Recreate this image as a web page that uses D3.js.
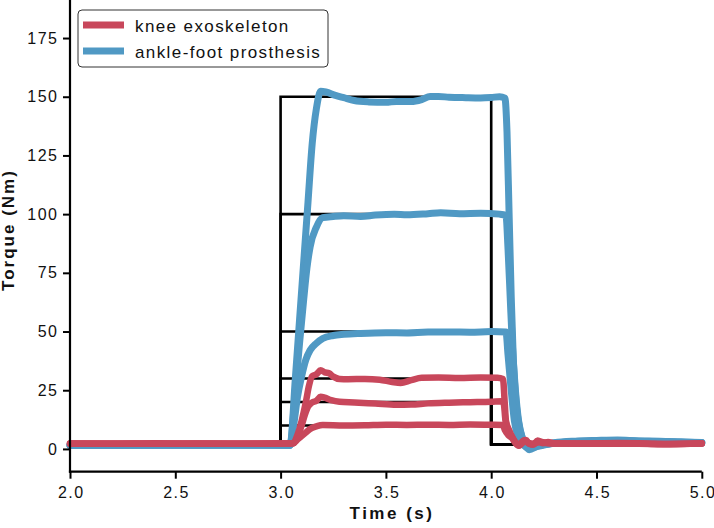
<!DOCTYPE html>
<html><head><meta charset="utf-8">
<script src="https://cdn.jsdelivr.net/npm/d3@7"></script>
<style>
html,body{margin:0;padding:0;background:#fff;}
svg{display:block;font-family:"Liberation Sans",Arial,sans-serif;}
</style></head>
<body><svg id="chart" width="714" height="528"></svg>
<script>
// ---------- data ----------
const xTicks = [2.0, 2.5, 3.0, 3.5, 4.0, 4.5, 5.0];
const yTicks = [0, 25, 50, 75, 100, 125, 150, 175];
const seriesNames = ["knee exoskeleton", "ankle-foot prosthesis"];
const seriesColors = ["#c8475b", "#5099c4"];

// commanded reference steps (black)
const refLevels = [10, 20, 30, 50, 100, 150];
const refTimes = [2.0, 3.0, 3.0, 4.0, 4.0, 5.0];
const refBase = 2;

// ankle-foot prosthesis (blue) — [time s, torque Nm]
const ankle150 = [[2.0,1.6],[2.3,1.7],[2.6,1.6],[2.9,1.7],[3.045,1.6],[3.07,30],[3.09,55],[3.11,80],[3.13,105],[3.15,130],[3.17,145],[3.19,152.3],[3.215,152],[3.26,150.6],[3.3,149.6],[3.35,148.4],[3.42,147.8],[3.5,147.6],[3.55,148],[3.62,148],[3.67,148.8],[3.71,150.1],[3.75,150.1],[3.8,149.8],[3.88,149.6],[3.95,149.5],[4.0,149.7],[4.04,150],[4.065,149.4],[4.075,135],[4.085,100],[4.095,65],[4.105,38],[4.12,18],[4.14,7],[4.16,2],[4.18,-0.3],[4.22,1.2],[4.3,2.6],[4.4,3.3],[4.5,3.6],[4.6,3.8],[4.7,3.4],[4.8,3.3],[4.9,3.0],[5.0,2.7]];
const ankle100 = [[2.0,1.6],[2.4,1.6],[2.8,1.7],[3.045,1.6],[3.07,25],[3.09,45],[3.11,64],[3.125,77],[3.14,86],[3.17,94.5],[3.2,98.5],[3.25,99],[3.3,99.3],[3.38,99],[3.45,99.6],[3.54,100],[3.6,99.7],[3.7,100.2],[3.76,100.6],[3.85,100.2],[3.95,100.4],[4.04,100],[4.07,99.5],[4.08,85],[4.09,65],[4.1,45],[4.115,25],[4.13,12],[4.15,4],[4.17,0.5],[4.2,0.8],[4.3,2.5],[4.4,3.2],[4.5,3.4],[4.6,3.6],[4.7,3.3],[4.8,3.1],[4.9,2.9],[5.0,2.6]];
const ankle50 = [[2.0,1.5],[2.5,1.6],[2.9,1.6],[3.045,1.6],[3.065,12],[3.08,22],[3.1,31],[3.12,38],[3.14,42],[3.17,45],[3.2,47],[3.25,48.3],[3.3,48.8],[3.38,49.2],[3.5,49.5],[3.6,49.4],[3.7,49.8],[3.8,49.8],[3.9,49.7],[4.0,50],[4.07,49.8],[4.08,40],[4.095,25],[4.11,12],[4.13,5],[4.15,2],[4.17,0.8],[4.22,1.5],[4.3,2.4],[4.45,3.1],[4.6,3.4],[4.75,3.1],[4.9,2.8],[5.0,2.6]];

// knee exoskeleton (red) — [time s, torque Nm]
const knee30 = [[2.0,2.3],[2.2,2.2],[2.4,2.4],[2.6,2.3],[2.8,2.2],[3.0,2.3],[3.06,2.4],[3.08,6],[3.1,12],[3.12,20],[3.135,27],[3.15,31],[3.17,31.8],[3.19,33.5],[3.21,32.6],[3.23,32.2],[3.25,30.8],[3.28,29.8],[3.32,29.7],[3.4,29.8],[3.47,29.5],[3.53,28.5],[3.57,28.1],[3.62,29.3],[3.67,30.3],[3.75,30.4],[3.85,30.2],[3.95,30.4],[4.03,30.3],[4.056,29.8],[4.064,20],[4.07,12],[4.085,8],[4.097,5.5],[4.115,2.5],[4.13,1.3],[4.15,3.4],[4.165,3.8],[4.18,2.2],[4.2,1.8],[4.22,3.6],[4.245,2.4],[4.27,3],[4.3,2.4],[4.4,2.3],[4.5,2.4],[4.6,2.5],[4.7,2.4],[4.8,2.0],[4.9,2.1],[5.0,2.4]];
const knee20 = [[2.0,2.2],[2.3,2.3],[2.6,2.2],[2.9,2.3],[3.06,2.4],[3.08,5],[3.1,10],[3.115,14.5],[3.13,18],[3.15,19.8],[3.17,20.5],[3.19,22.2],[3.21,21.8],[3.24,20.8],[3.28,20.1],[3.35,19.8],[3.45,19.3],[3.55,18.8],[3.62,18.9],[3.7,19.4],[3.8,19.7],[3.9,19.9],[4.0,20.1],[4.05,20.3],[4.06,19],[4.068,12],[4.085,7.5],[4.1,5],[4.12,2.2],[4.135,1.5],[4.155,3.5],[4.175,2.6],[4.2,2],[4.225,3.3],[4.26,2.5],[4.35,2.3],[4.5,2.2],[4.7,2.3],[4.85,2.1],[5.0,2.3]];
const knee10 = [[2.0,2.3],[2.3,2.2],[2.6,2.3],[2.9,2.2],[3.06,2.4],[3.08,4],[3.1,5.5],[3.12,7],[3.14,8.5],[3.17,9.6],[3.2,10.2],[3.3,10],[3.4,10.1],[3.5,10.3],[3.6,10.2],[3.7,10.3],[3.8,10.2],[3.9,10.4],[4.0,10.3],[4.055,10.2],[4.065,8],[4.08,6],[4.1,4.5],[4.12,2.4],[4.14,2],[4.16,3.2],[4.19,2.2],[4.23,2.8],[4.3,2.3],[4.45,2.2],[4.6,2.3],[4.8,2.1],[5.0,2.3]];

const ankleSeries = [ankle150, ankle100, ankle50];
const kneeSeries = [knee30, knee20, knee10];

// ---------- chart ----------
const svg = d3.select("#chart");
const x = d3.scaleLinear().domain([2, 5]).range([70, 701.8]);
const y = d3.scaleLinear().domain([-9.7, 191.2]).range([471.7, 0]);

const line = d3.line().x(d => x(d[0])).y(d => y(d[1])).curve(d3.curveMonotoneX);

// reference steps
const refG = svg.append("g");
refLevels.forEach(L => {
  const pts = refTimes.map((t, i) => [t, (i === 0 || i === 1 || i === 4 || i === 5) ? refBase : L]);
  refG.append("path")
    .attr("d", d3.line().x(d => x(d[0])).y(d => y(d[1]))(pts))
    .attr("fill", "none").attr("stroke", "#000").attr("stroke-width", 2.6)
    .attr("stroke-linejoin", "miter");
});

// blue
svg.append("g").selectAll("path").data(ankleSeries).join("path")
  .attr("d", line).attr("fill", "none")
  .attr("stroke", seriesColors[1]).attr("stroke-width", 7)
  .attr("stroke-linejoin", "round").attr("stroke-linecap", "round");

// red
svg.append("g").selectAll("path").data(kneeSeries).join("path")
  .attr("d", line).attr("fill", "none")
  .attr("stroke", seriesColors[0]).attr("stroke-width", 6.5)
  .attr("stroke-linejoin", "round").attr("stroke-linecap", "round");

// axes
const fontTick = 16, lsTick = 1.5;
const xAxis = svg.append("g").attr("transform", `translate(0,${y(-9.7)})`)
  .call(d3.axisBottom(x).tickValues(xTicks).tickFormat(d3.format(".1f")).tickSize(7).tickSizeOuter(0).tickPadding(8));
const yAxis = svg.append("g").attr("transform", `translate(${x(2)},0)`)
  .call(d3.axisLeft(y).tickValues(yTicks).tickSize(7).tickSizeOuter(0).tickPadding(6));
[xAxis, yAxis].forEach(a => {
  a.select(".domain").attr("stroke-width", 2.2).attr("stroke", "#000");
  a.selectAll(".tick line").attr("stroke-width", 2).attr("stroke", "#000");
  a.selectAll(".tick text").attr("font-size", fontTick).attr("fill", "#111")
    .attr("font-family", "Liberation Sans, Arial, sans-serif")
    .style("letter-spacing", lsTick + "px");
});
xAxis.selectAll(".tick text").attr("dx", lsTick / 2);
yAxis.selectAll(".tick text").attr("dx", lsTick);
xAxis.select(".domain").attr("d", `M${x(2) - 1.1},0H${x(5)}`);
yAxis.select(".domain").attr("d", `M0,0V${y(-9.7) + 1.1}`);

// axis titles
svg.append("text").attr("x", 392).attr("y", 519)
  .attr("text-anchor", "middle").attr("font-weight", "bold").attr("font-size", 17)
  .style("letter-spacing", "2.5px").attr("fill", "#111").text("Time (s)");
svg.append("text").attr("transform", "translate(13.5,230) rotate(-90)")
  .attr("text-anchor", "middle").attr("font-weight", "bold").attr("font-size", 17)
  .style("letter-spacing", "2px").attr("fill", "#111").text("Torque (Nm)");

// legend
const lg = svg.append("g");
lg.append("rect").attr("x", 78).attr("y", 10).attr("width", 250).attr("height", 57)
  .attr("rx", 4).attr("fill", "#fff").attr("stroke", "#333").attr("stroke-width", 1);
seriesNames.forEach((name, i) => {
  const yy = 25 + i * 26;
  lg.append("line").attr("x1", 83).attr("x2", 124).attr("y1", yy).attr("y2", yy)
    .attr("stroke", seriesColors[i]).attr("stroke-width", 7);
  lg.append("text").attr("x", 135).attr("y", yy + 6.5).attr("font-size", 17)
    .style("letter-spacing", "1.4px").attr("fill", "#111").text(name);
});
</script>
</body></html>
